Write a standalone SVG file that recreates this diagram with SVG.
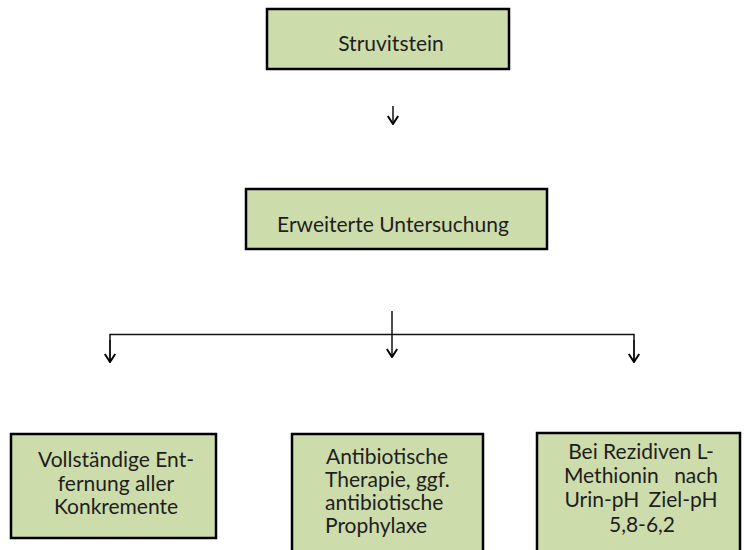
<svg xmlns="http://www.w3.org/2000/svg" width="744" height="550" viewBox="0 0 744 550">
<style>
.box{fill:#CDDCAB;stroke:#000;stroke-width:2.5}
.t{font-family:Lato,"Open Sans",sans-serif;font-size:21px;fill:#1e1e1e}
.c{text-anchor:middle}
.ln{fill:none;stroke:#111;stroke-width:1.5}
</style>
<defs>
<marker id="ah" viewBox="0 0 10 12" refX="9" refY="6" markerWidth="10" markerHeight="12" markerUnits="userSpaceOnUse" orient="auto">
<path d="M1,0.8 L9,6 L1,11.2" fill="none" stroke="#000" stroke-width="2"/>
</marker>
</defs>
<rect width="744" height="550" fill="#fff"/>
<g id="connectors">
<line class="ln" x1="393" y1="106" x2="393" y2="124" marker-end="url(#ah)"/>
<line class="ln" x1="392" y1="311" x2="392" y2="357" marker-end="url(#ah)"/>
<polyline class="ln" points="110,362 110,334.5 634,334.5 634,362"/>
<line class="ln" x1="110" y1="340" x2="110" y2="362" marker-end="url(#ah)"/>
<line class="ln" x1="634" y1="340" x2="634" y2="362" marker-end="url(#ah)"/>
</g>
<g id="struvitstein">
<rect class="box" x="267" y="9" width="242" height="60"/>
<text class="t c" x="391" y="51">Struvitstein</text>
</g>
<g id="erweiterte">
<rect class="box" x="246" y="189" width="301" height="60"/>
<text class="t c" x="393" y="232">Erweiterte Untersuchung</text>
</g>
<g id="entfernung">
<rect class="box" x="11" y="434" width="205" height="104"/>
<text class="t c" x="116" y="467">Vollständige Ent-</text>
<text class="t c" x="116" y="490.5">fernung aller</text>
<text class="t c" x="116" y="514">Konkremente</text>
</g>
<g id="antibiotika">
<rect class="box" x="292" y="434" width="191" height="120"/>
<text class="t" x="326" y="464">Antibiotische</text>
<text class="t" x="325" y="487">Therapie, ggf.</text>
<text class="t" x="325" y="510">antibiotische</text>
<text class="t" x="325" y="533">Prophylaxe</text>
</g>
<g id="methionin">
<rect class="box" x="537" y="433" width="203" height="121"/>
<text class="t c" x="641" y="459">Bei Rezidiven L-</text>
<text class="t c" x="641" y="483" word-spacing="10">Methionin nach</text>
<text class="t c" x="641" y="507" word-spacing="4">Urin-pH Ziel-pH</text>
<text class="t c" x="642" y="532">5,8-6,2</text>
</g>
</svg>
